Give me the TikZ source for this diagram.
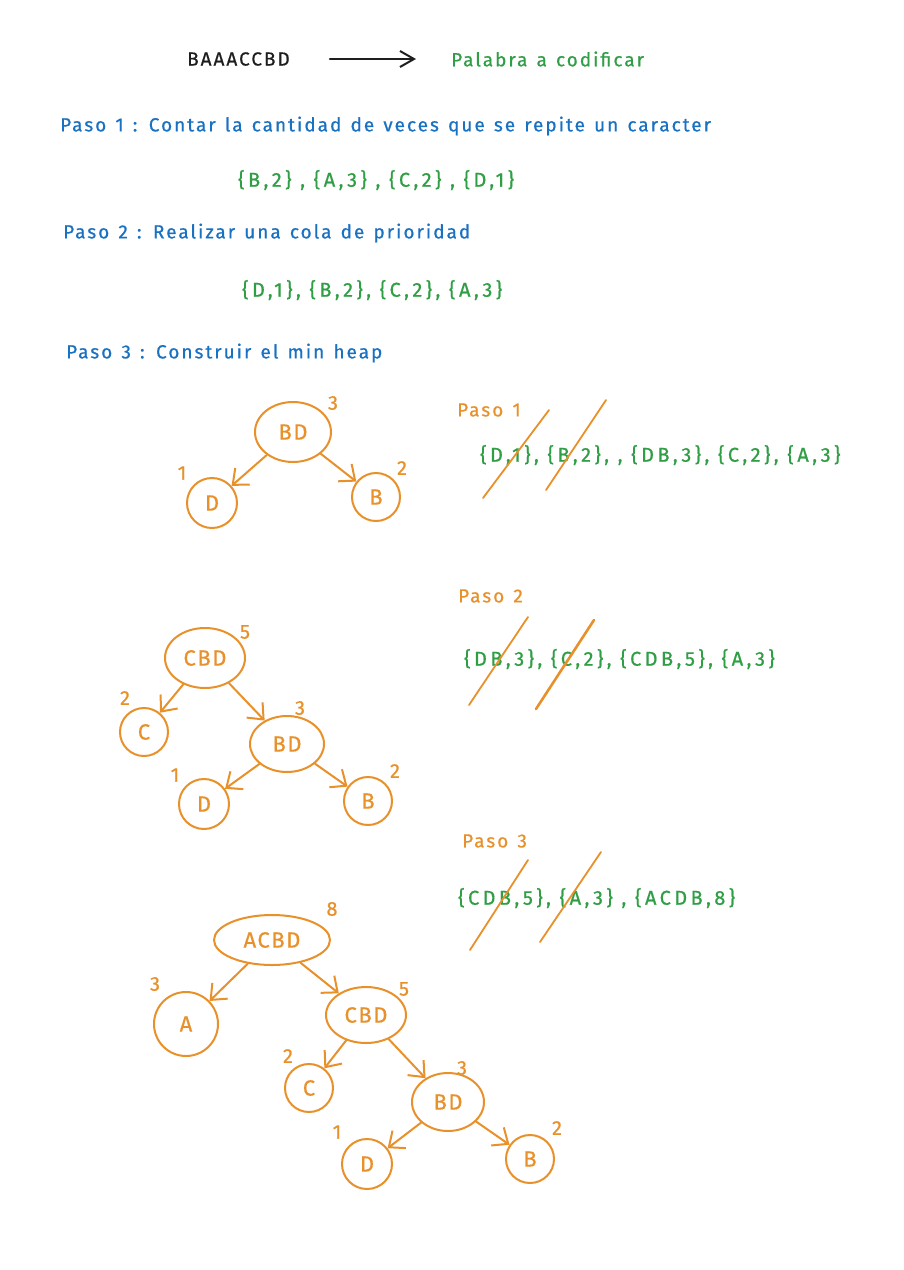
\documentclass[tikz,border=0pt]{standalone}
\usepackage{fontspec}
\setmainfont{Fira Sans}
\newfontfamily\sk[LetterSpace=10.5,WordSpace=1.3,FakeBold=0.6]{Fira Sans}
\newfontfamily\skl[LetterSpace=17,FakeBold=0.6]{Fira Sans}
\newfontfamily\skn[LetterSpace=7,FakeBold=0.6]{Fira Sans}
\usetikzlibrary{arrows.meta,shapes.geometric}
\definecolor{myblue}{HTML}{1971C2}
\definecolor{mygreen}{HTML}{2F9E44}
\definecolor{myorange}{HTML}{E8912B}
\definecolor{myblack}{HTML}{1E1E1E}
\newcommand\bigtxt{\sk\fontsize{19}{22}\selectfont}
\newcommand\listtxt{\skl\fontsize{20}{23}\selectfont}
\newcommand\midtxt{\sk\fontsize{19}{22}\selectfont}
\newcommand\nodetxt{\skn\fontsize{22}{25}\selectfont}
\newcommand\numtxtfont{\sk\fontsize{20}{23}\selectfont}
\tikzset{
  bluetxt/.style={anchor=west, inner sep=0pt, text=myblue, font=\bigtxt},
  greentxt/.style={anchor=west, inner sep=0pt, text=mygreen, font=\bigtxt},
  listnode/.style={anchor=west, inner sep=0pt, text=mygreen, font=\listtxt},
  orangetxt/.style={anchor=west, inner sep=0pt, text=myorange, font=\midtxt},
  numtxt/.style={inner sep=0pt, text=myorange, font=\numtxtfont},
  circnode/.style={circle, draw=myorange, line width=2pt, text=myorange, font=\nodetxt, minimum size=#1, inner sep=0pt},
  ellnode/.style={ellipse, draw=myorange, line width=2pt, text=myorange, font=\nodetxt, inner sep=0pt},
  edge/.style={draw=myorange, line width=2pt, line cap=round, -{Straight Barb[length=13pt,width=22pt,line width=2pt]}},
  strike/.style={draw=myorange, line width=1.8pt, line cap=round},
}
\begin{document}
\begin{tikzpicture}[x=1pt,y=-1pt]
\useasboundingbox (0,0) rectangle (904,1270);
\fill[white] (0,0) rectangle (904,1270);

% header
\node[anchor=west, inner sep=0pt, text=myblack, font=\bigtxt] (word) at (187,59) {BAAACCBD};
\node[greentxt] (pal) at (451,59) {Palabra a codificar};
\draw[myblack, line width=2pt, line cap=round, shorten <=40pt, shorten >=35pt,
  -{Straight Barb[length=14pt,width=16pt,line width=2pt]}] (word.east) -- (pal.west);

\node[bluetxt] (p1) at (60,126) {Paso 1 : Contar la cantidad de veces que se repite un caracter};
\node[listnode] (l1) at (238,180) {\{B,2\} , \{A,3\} , \{C,2\} , \{D,1\}};
\node[bluetxt] (p2) at (63,233) {Paso 2 : Realizar una cola de prioridad};
\node[listnode] (l2) at (242,290) {\{D,1\}, \{B,2\}, \{C,2\}, \{A,3\}};
\node[bluetxt] (p3) at (66,353) {Paso 3 : Construir el min heap};

% Tree 1
\node[ellnode, minimum width=76pt, minimum height=60pt] (t1bd) at (293,432) {BD};
\node[numtxt] (t1n3) at (333,403) {3};
\node[circnode=50pt] (t1d) at (212,503) {D};
\node[numtxt] (t1n1) at (182,473) {1};
\node[circnode=48pt] (t1b) at (376,497) {B};
\node[numtxt] (t1n2) at (402,468) {2};
\draw[edge] (t1bd) -- (t1d);
\draw[edge] (t1bd) -- (t1b);

\node[orangetxt] (s1) at (457,410) {Paso 1};
\node[listnode] (s1l) at (480,455) {\{D,1\}, \{B,2\}, , \{DB,3\}, \{C,2\}, \{A,3\}};
\draw[strike] (483,498) -- (549,410);
\draw[strike] (546,490) -- (606,400);

% Tree 2
\node[ellnode, minimum width=80pt, minimum height=60pt] (t2cbd) at (205,658) {CBD};
\node[numtxt] (t2n5) at (245,632) {5};
\node[circnode=48pt] (t2c) at (144,732) {C};
\node[numtxt] (t2n2a) at (125,698) {2};
\node[ellnode, minimum width=74pt, minimum height=56pt] (t2bd) at (287,744) {BD};
\node[numtxt] (t2n3) at (300,708) {3};
\node[circnode=50pt] (t2d) at (204,804) {D};
\node[numtxt] (t2n1) at (175,775) {1};
\node[circnode=48pt] (t2b) at (368,801) {B};
\node[numtxt] (t2n2b) at (395,771) {2};
\draw[edge] (t2cbd) -- (t2c);
\draw[edge] (t2cbd) -- (t2bd);
\draw[edge] (t2bd) -- (t2d);
\draw[edge] (t2bd) -- (t2b);

\node[orangetxt] (s2) at (458,596) {Paso 2};
\node[listnode] (s2l) at (464,659) {\{DB,3\}, \{C,2\}, \{CDB,5\}, \{A,3\}};
\draw[strike] (469,705) -- (528,617);
\draw[strike, line width=2.6pt] (536,709) -- (594,620);

% Tree 3
\node[orangetxt] (s3) at (462,841) {Paso 3};
\node[listnode] (s3l) at (458,898) {\{CDB,5\}, \{A,3\} , \{ACDB,8\}};
\draw[strike] (470,950) -- (528,860);
\draw[strike] (540,942) -- (601,852);

\node[ellnode, minimum width=116pt, minimum height=50pt] (t3acbd) at (272,940) {ACBD};
\node[numtxt] (t3n8) at (332,909) {8};
\node[circnode=64pt] (t3a) at (186,1024) {A};
\node[numtxt] (t3n3a) at (155,984) {3};
\node[ellnode, minimum width=80pt, minimum height=56pt] (t3cbd) at (366,1015) {CBD};
\node[numtxt] (t3n5) at (404,989) {5};
\node[circnode=48pt] (t3c) at (309,1088) {C};
\node[numtxt] (t3n2a) at (288,1056) {2};
\node[ellnode, minimum width=72pt, minimum height=58pt] (t3bd) at (448,1102) {BD};
\node[numtxt] (t3n3b) at (462,1068) {3};
\node[circnode=50pt] (t3d) at (367,1164) {D};
\node[numtxt] (t3n1) at (337,1132) {1};
\node[circnode=48pt] (t3b) at (530,1159) {B};
\node[numtxt] (t3n2b) at (557,1128) {2};
\draw[edge] (t3acbd) -- (t3a);
\draw[edge] (t3acbd) -- (t3cbd);
\draw[edge] (t3cbd) -- (t3c);
\draw[edge] (t3cbd) -- (t3bd);
\draw[edge] (t3bd) -- (t3d);
\draw[edge] (t3bd) -- (t3b);
\end{tikzpicture}
\end{document}
